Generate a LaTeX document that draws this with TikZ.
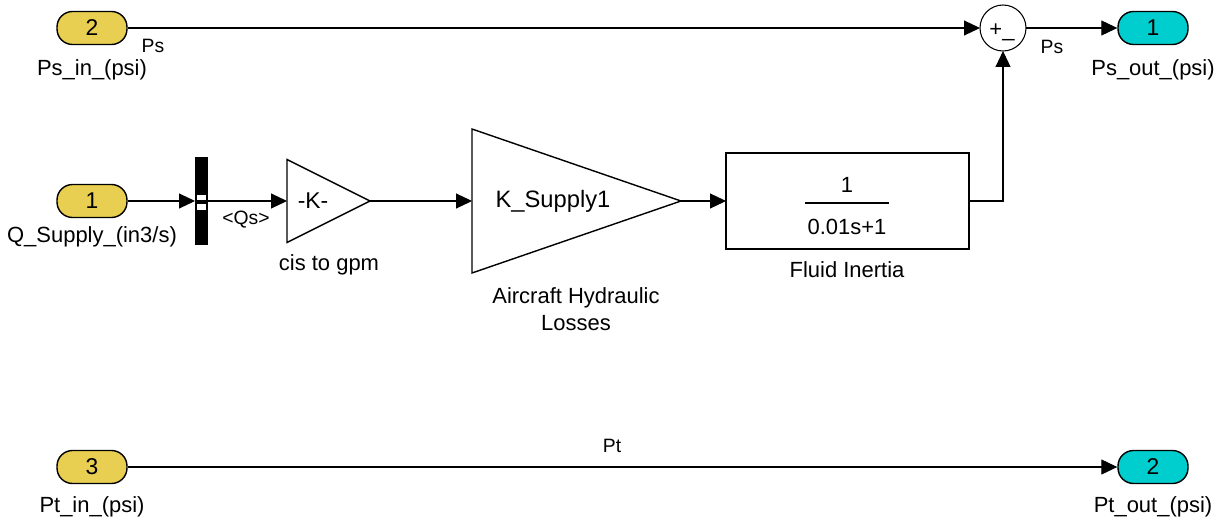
\documentclass[tikz,border=0pt]{standalone}
\usepackage{fontspec}
\setmainfont{Liberation Sans}
\usepackage{tikz}
\usetikzlibrary{shapes,arrows.meta,positioning}
\usepackage{xcolor}
\definecolor{portin}{RGB}{232,207,82}
\definecolor{portout}{RGB}{0,206,206}

\tikzset{
    inport/.style={draw, thick, fill=portin, rounded corners=0.31cm, minimum width=1.4cm, minimum height=0.66cm, inner sep=0pt, font=\fontsize{13}{15}\selectfont},
    outport/.style={inport, fill=portout},
    blocklabel/.style={font=\fontsize{12.5}{15}\selectfont, align=center},
    siglabel/.style={font=\fontsize{11}{13}\selectfont},
    sigline/.style={semithick, -{Triangle[length=0.32cm,width=0.3cm]}},
    hull/.style={inner sep=0pt, outer sep=0pt}
}

\begin{document}
\begin{tikzpicture}[x=0.02cm, y=-0.02cm]
        \useasboundingbox (0,0) rectangle (1223,527);

        % Ports
        \node[inport] (in2) at (92,28) {2};
        \node[inport] (in1) at (92,201) {1};
        \node[inport] (in3) at (92,467) {3};
        \node[outport] (out1) at (1153,28) {1};
        \node[outport] (out2) at (1153,467) {2};

        \node[blocklabel] at (92,70) {Ps\_in\_(psi)};
        \node[blocklabel] at (92,237) {Q\_Supply\_(in3/s)};
        \node[blocklabel] at (92,507) {Pt\_in\_(psi)};
        \node[blocklabel] at (1153,70) {Ps\_out\_(psi)};
        \node[blocklabel] at (1153,507) {Pt\_out\_(psi)};

        % Bus selector
        \node[hull, fill=black, minimum width=0.26cm, minimum height=1.76cm] (bus) at (201.5,201) {};
        \fill[white] (197,195) rectangle (206,200);
        \fill[white] (197,204) rectangle (206,210);

        % Gain -K-
        \node[hull, minimum width=1.66cm, minimum height=1.66cm] (gain) at (328.5,201) {};
        \draw[thick, fill=white] (gain.north west) -- (gain.east) -- (gain.south west) -- cycle;
        \node[font=\fontsize{13}{15}\selectfont] at (313,201) {-K-};
        \node[blocklabel] at (329,265) {cis to gpm};

        % Gain K_Supply1
        \node[hull, minimum width=4.18cm, minimum height=2.88cm] (loss) at (576.5,201) {};
        \draw[thick, fill=white] (loss.north west) -- (loss.east) -- (loss.south west) -- cycle;
        \node[font=\fontsize{13.5}{16}\selectfont] at (553,201) {K\_Supply1};
        \node[blocklabel] at (576,309) {Aircraft Hydraulic\\Losses};

        % Transfer function
        \node[hull, draw, thick, fill=white, minimum width=4.86cm, minimum height=1.92cm] (tf) at (847.5,201) {};
        \node[blocklabel] at (847,185) {1};
        \draw[semithick] (805,203) -- (889,203);
        \node[blocklabel] at (847,227) {0.01s+1};
        \node[blocklabel] at (847,270) {Fluid Inertia};

        % Sum
        \node[hull, draw, semithick, circle, fill=white, minimum size=0.92cm] (sum) at (1003,28) {};
        \node[font=\fontsize{12.5}{15}\selectfont, anchor=base] at (1002,37) {+\_};

        % Signals
        \draw[sigline] (in2.east) -- (sum.west);
        \draw[sigline] (sum.east) -- (out1.west);
        \draw[sigline] (in1.east) -- (bus.west);
        \draw[sigline] (bus.east) -- (gain.west);
        \draw[sigline] (gain.east) -- (loss.west);
        \draw[sigline] (loss.east) -- (tf.west);
        \draw[sigline] (tf.east) -| (sum.south);
        \draw[sigline] (in3.east) -- (out2.west);

        % Signal names
        \node[siglabel] at (153,46) {Ps};
        \node[siglabel] at (1052,47) {Ps};
        \node[siglabel] at (246,220) {<Qs>};
        \node[siglabel] at (612,446) {Pt};
    \end{tikzpicture}
\end{document}
